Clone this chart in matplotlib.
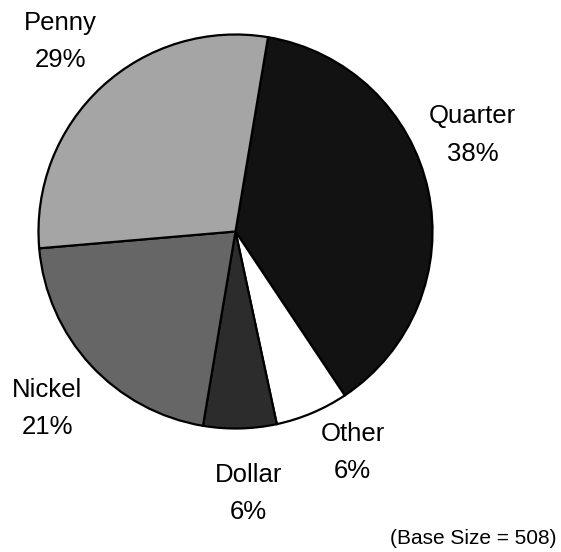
import numpy as np
import matplotlib
matplotlib.use("Agg")
import matplotlib.pyplot as plt

plt.rcParams['font.family'] = ['Liberation Sans', 'DejaVu Sans']

# Coin preference shares (percent), clockwise from the top
categories = ["Quarter", "Other", "Dollar", "Nickel", "Penny"]
shares = [38, 6, 6, 21, 29]
base_size = 508

colors = ["#121212", "#ffffff", "#2c2c2c", "#666666", "#a5a5a5"]
# label placement: extra angle (deg) and radius factor per slice
label_angle_shift = [10, 5, 1.5, 0.5, 0]
label_radius = [1.30, 1.27, 1.33, 1.31, 1.31]

W, H = 561, 552
cx, cy, R = 235.5, 231.5, 197.0

fig = plt.figure(figsize=(W / 100, H / 100), dpi=100)
ax = fig.add_axes([0, 0, 1, 1])

wedges, _ = ax.pie(shares, colors=colors, startangle=80.5, counterclock=False,
                   radius=1.0, center=(0, 0),
                   wedgeprops=dict(edgecolor='black', linewidth=1.6))
ax.set_xlim(-cx / R, (W - cx) / R)
ax.set_ylim(-(H - cy) / R, cy / R)
ax.set_aspect('equal')
ax.axis('off')

for w, name, val, da, rf in zip(wedges, categories, shares, label_angle_shift, label_radius):
    mid = np.deg2rad((w.theta1 + w.theta2) / 2 + da)
    ax.text(rf * np.cos(mid), rf * np.sin(mid), f"{name}\n{val}%",
            ha='center', va='center', fontsize=18.5, linespacing=1.7)

fig.text(1 - 4 / W, 14 / H, f"(Base Size = {base_size})", ha='right', va='center',
         fontsize=15)

fig.savefig("out.png", dpi=100)
